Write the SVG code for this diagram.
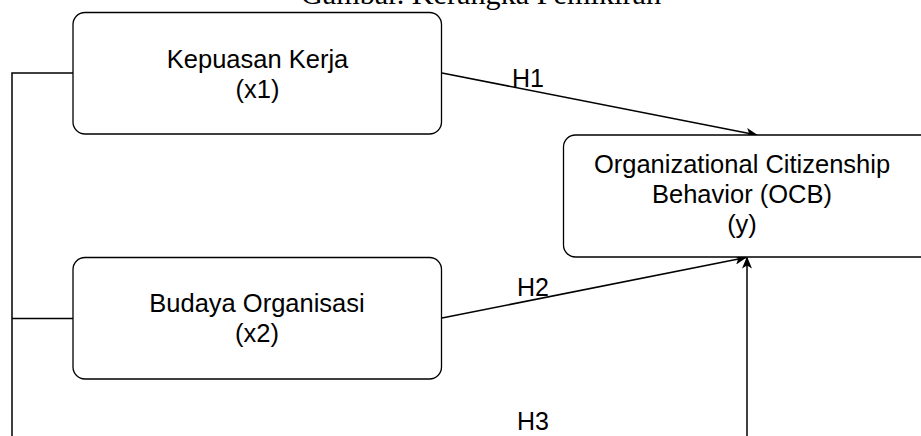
<svg xmlns="http://www.w3.org/2000/svg" width="921" height="436" viewBox="0 0 921 436">
<defs>
<style>
.box{fill:#fff;stroke:#000;stroke-width:1.3}
.lbl{font-family:"Liberation Sans",Arial,sans-serif;font-size:25.5px;fill:#000;text-anchor:middle}
.edge{fill:none;stroke:#000;stroke-width:1.5}
.el{font-family:"Liberation Sans",Arial,sans-serif;font-size:25px;fill:#000}
.title{font-family:"Liberation Serif","DejaVu Serif",serif;font-size:29px;fill:#000}
</style>
<marker id="ah" viewBox="0 0 12 10" refX="11" refY="5" markerWidth="12" markerHeight="10" markerUnits="userSpaceOnUse" orient="auto">
<path d="M0,0 L12,5 L0,10 L3,5 Z" fill="#000"/>
</marker>
</defs>
<rect width="921" height="436" fill="#fff"/>
<text class="title" x="301" y="4" textLength="360" lengthAdjust="spacingAndGlyphs">Gambar. Kerangka Pemikiran</text>
<g id="connectors">
<polyline class="edge" points="73,73 12,73 12,440"/>
<line class="edge" x1="12" y1="318.5" x2="73" y2="318.5"/>
<line class="edge" x1="442" y1="73" x2="757" y2="135" marker-end="url(#ah)"/>
<line class="edge" x1="442" y1="318" x2="746" y2="257.5" marker-end="url(#ah)"/>
<line class="edge" x1="747" y1="440" x2="747" y2="257.5" marker-end="url(#ah)"/>
<text class="el" x="512" y="87">H1</text>
<text class="el" x="517" y="296">H2</text>
<text class="el" x="517" y="430">H3</text>
</g>
<g id="node-x1">
<rect class="box" x="73" y="12.5" width="368.5" height="121.5" rx="12"/>
<text class="lbl" x="257.5" y="68">Kepuasan Kerja</text>
<text class="lbl" x="257.5" y="98">(x1)</text>
</g>
<g id="node-x2">
<rect class="box" x="73" y="257.5" width="368.5" height="121.5" rx="12"/>
<text class="lbl" x="257" y="312">Budaya Organisasi</text>
<text class="lbl" x="257" y="342">(x2)</text>
</g>
<g id="node-y">
<rect class="box" x="563.5" y="135" width="370" height="122" rx="12"/>
<text class="lbl" x="742" y="173">Organizational Citizenship</text>
<text class="lbl" x="742" y="203">Behavior (OCB)</text>
<text class="lbl" x="742" y="233">(y)</text>
</g>
</svg>
